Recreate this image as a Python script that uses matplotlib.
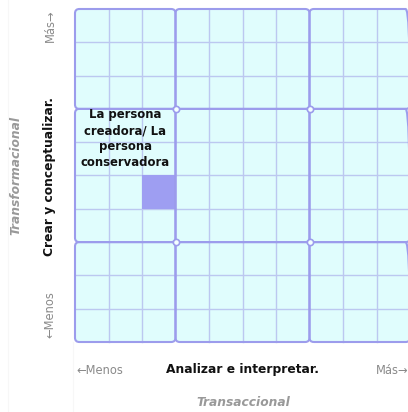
import matplotlib
matplotlib.use("Agg")
import matplotlib.pyplot as plt
from matplotlib.patches import FancyBboxPatch, Rectangle

# grid layout: 10 x 10 cells, grouped 3-4-3 in both directions
x_groups = [0, 3, 7, 10]
y_groups = [0, 3, 7, 10]
n_cells = 10

# highlighted cells (column, row from bottom)
highlight_cells = [(2, 4)]

# text inside the grid
cell_label = "La persona\ncreadora/ La\npersona\nconservadora"
cell_label_pos = (1.5, 6.1)

x_title = "Analizar e interpretar."
y_title = "Crear y conceptualizar."
x_group = "Transaccional"
y_group = "Transformacional"
low_text = "←Menos"
high_text = "Más→"

bg = "#e0fdfd"
big_line = "#9c9cec"
small_line = "#bcc8f0"
hl_color = "#9e9ef2"
gray = "#8a8a8a"

W, H = 408, 412
fig = plt.figure(figsize=(W / 100, H / 100), dpi=100)


def fx(x):
    return x / W


def fy(y):
    return 1 - y / H


ax = fig.add_axes([fx(75), fy(342), fx(410) - fx(75), fy(9) - fy(342)])
ax.set_xlim(0, n_cells)
ax.set_ylim(0, n_cells)
ax.axis("off")

# faint guide lines on the left
fig.add_artist(plt.Line2D([fx(8), fx(8)], [0, 1], color="#f7f7f7", lw=0.8))
fig.add_artist(plt.Line2D([fx(73), fx(73)], [0, fy(342)], color="#f7f7f7", lw=0.8))

blocks = []
for i in range(3):
    for j in range(3):
        x0, x1 = x_groups[i], x_groups[i + 1]
        y0, y1 = y_groups[j], y_groups[j + 1]
        blocks.append((x0, y0, x1 - x0, y1 - y0))

style = "round,pad=0,rounding_size=0.13"

for (x0, y0, w, h) in blocks:
    ax.add_patch(FancyBboxPatch((x0, y0), w, h, boxstyle=style,
                                facecolor=bg, edgecolor="none", zorder=1,
                                clip_on=False))
    for k in range(1, w):
        ax.plot([x0 + k, x0 + k], [y0, y0 + h], color=small_line, lw=1.0,
                zorder=2, clip_on=False)
    for k in range(1, h):
        ax.plot([x0, x0 + w], [y0 + k, y0 + k], color=small_line, lw=1.0,
                zorder=2, clip_on=False)

for (cx, cy) in highlight_cells:
    ax.add_patch(Rectangle((cx, cy), 1, 1, facecolor=hl_color,
                           edgecolor="none", zorder=2.5))

for (x0, y0, w, h) in blocks:
    ax.add_patch(FancyBboxPatch((x0, y0), w, h, boxstyle=style,
                                facecolor="none", edgecolor=big_line, lw=1.5,
                                zorder=3, clip_on=False))

for gx in x_groups[1:-1]:
    for gy in y_groups[1:-1]:
        ax.plot(gx, gy, "o", ms=4.5, mfc="#f4ffff", mec=big_line, mew=1.2,
                zorder=4, clip_on=False)

ax.text(cell_label_pos[0], cell_label_pos[1], cell_label, ha="center",
        va="center", fontsize=8.4, fontweight="bold", linespacing=1.3,
        color="#111111", zorder=5)

# axis texts
fig.text(fx(100), fy(370), low_text, ha="center", va="center", fontsize=8.3,
         color=gray)
fig.text(fx(243), fy(370), x_title, ha="center", va="center", fontsize=8.8,
         fontweight="bold", color="#111111")
fig.text(fx(392), fy(370), high_text, ha="center", va="center", fontsize=8.3,
         color=gray)
fig.text(fx(243), fy(403), x_group, ha="center", va="center", fontsize=8.8,
         fontstyle="italic", fontweight="bold", color="#999999")

fig.text(fx(50), fy(315), low_text, ha="center", va="center", fontsize=8.3,
         color=gray, rotation=90)
fig.text(fx(50), fy(176), y_title, ha="center", va="center", fontsize=8.8,
         fontweight="bold", color="#111111", rotation=90)
fig.text(fx(50), fy(26), high_text, ha="center", va="center", fontsize=8.3,
         color=gray, rotation=90)
fig.text(fx(16), fy(175), y_group, ha="center", va="center", fontsize=8.8,
         fontstyle="italic", fontweight="bold", color="#999999", rotation=90)

fig.savefig("out.png", dpi=100, facecolor="white")
